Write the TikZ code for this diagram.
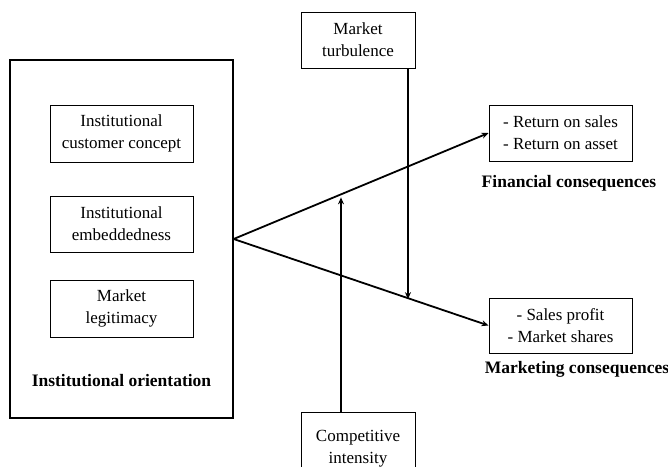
\documentclass[tikz,border=0pt]{standalone}
\usepackage{fontspec}
\setmainfont{Liberation Serif}
\usetikzlibrary{calc,arrows.meta}
\begin{document}
\begin{tikzpicture}[x=1pt,y=-1pt,
  box/.style={draw,line width=1pt,rectangle,align=center,inner sep=0pt,
    font=\fontsize{17}{22}\selectfont},
  caption/.style={font=\fontsize{17.5}{21}\selectfont\bfseries},
  link/.style={line width=1.8pt,-{Stealth[length=7pt,width=6pt]}}]
\useasboundingbox (0,0) rectangle (668,466);
\clip (0,0) rectangle (668,466);
% institutional orientation block
\node[box,line width=1.3pt,minimum width=223,minimum height=358] (io) at (121.5,239) {};
\node[box,minimum width=143,minimum height=57] (icc) at (121.5,133.5) {Institutional\\customer concept};
\node[box,minimum width=143,minimum height=56] (ie) at (121.5,224) {Institutional\\embeddedness};
\node[box,minimum width=143,minimum height=57] (ml) at (121.5,308.5) {Market\\legitimacy};
\node[caption] (iol) at (121.5,381) {Institutional orientation};
% moderators
\node[box,minimum width=114,minimum height=56] (turb) at (358,40) {Market\\turbulence};
\node[box,minimum width=114,minimum height=74] (comp) at (358,449) {Competitive\\intensity};
% outcomes
\node[box,minimum width=143,minimum height=56] (fin) at (560.5,133) {- Return on sales\\- Return on asset};
\node[caption] (finl) at (569,183) {Financial consequences};
\node[box,minimum width=143,minimum height=55] (mkt) at (560.5,325.5) {- Sales profit\\- Market shares};
\node[caption] (mktl) at (577,369) {Marketing consequences};
% main paths
\draw[link] (io.east) -- (fin.west);
\draw[link] (io.east) -- (mkt.west);
% moderating paths
\coordinate (tl) at ($(io.east)!0.684!(mkt.west)$);
\coordinate (cu) at ($(io.east)!0.4212!(fin.west)$);
\draw[link,shorten >=-1pt] (turb.south -| tl) -- (tl);
\draw[link,line width=2pt,shorten >=3pt] (comp.north -| cu) -- (cu);
\end{tikzpicture}
\end{document}
